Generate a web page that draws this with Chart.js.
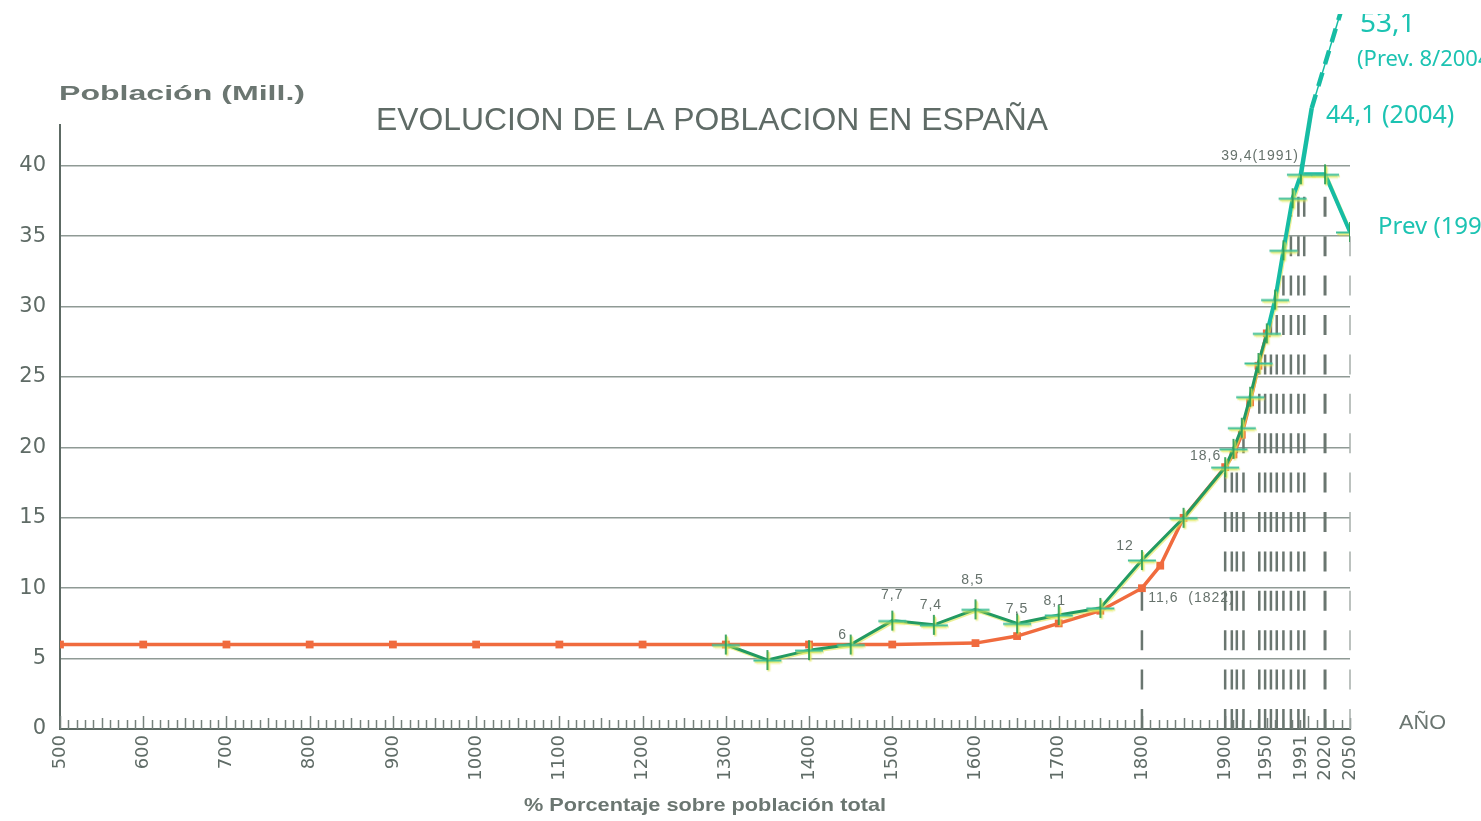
<!DOCTYPE html>
<html>
<head>
<meta charset="utf-8">
<script src="https://cdn.jsdelivr.net/npm/chart.js@4.4.1/dist/chart.umd.min.js"></script>
<style>
  html, body { margin: 0; padding: 0; background: #fff; overflow: hidden; }
  #wrap { width: 1481px; height: 821px; position: relative; }
</style>
</head>
<body>
<div id="wrap"><canvas id="c"></canvas></div>
<script>
// Población de España (millones de habitantes)
const orangeYears  = [500, 600, 700, 800, 900, 1000, 1100, 1200, 1300, 1400, 1500, 1600, 1650, 1700, 1750, 1800, 1822, 1850, 1900, 1910, 1920, 1930, 1940, 1950];
const orangeValues = [6.0, 6.0, 6.0, 6.0, 6.0, 6.0, 6.0, 6.0, 6.0, 6.0, 6.0, 6.1, 6.6, 7.5, 8.4, 10.0, 11.6, 15.0, 18.6, 19.5, 20.9, 23.2, 25.8, 28.1];

const greenYears  = [1300, 1350, 1400, 1450, 1500, 1550, 1600, 1650, 1700, 1750, 1800, 1850, 1900, 1910, 1920, 1930, 1940, 1950, 1960, 1970, 1981, 1991, 2020, 2050];
const greenValues = [6.0, 4.9, 5.6, 6.0, 7.7, 7.4, 8.5, 7.5, 8.1, 8.6, 12.0, 15.0, 18.6, 19.9, 21.4, 23.6, 26.0, 28.1, 30.5, 34.0, 37.7, 39.4, 39.4, 35.3];

// hand-drawn update: 1991 -> 2004 and the 2050 projection
const updateYears   = [1991, 2004];
const updateValues  = [39.4, 44.1];
const projYears     = [2004, 2050];
const projValues    = [44.1, 53.1];

const xTickYears  = [500, 600, 700, 800, 900, 1000, 1100, 1200, 1300, 1400, 1500, 1600, 1700, 1800, 1900, 1950, 1991, 2020, 2050];
const yTickValues = [0, 5, 10, 15, 20, 25, 30, 35, 40];

// vertical dashed reference lines (year, height reached)
const hatchYears = [1800, 1900, 1908, 1914, 1922, 1941, 1948, 1955, 1962, 1970, 1979, 1988, 1995];
const hatchTops  = [10.0, 18.3, 19.3, 20.2, 21.4, 26.0, 27.5, 29.0, 31.0, 33.5, 36.5, 37.9, 37.9];

// value labels on the green series (year) and the orange series
const greenLabelYears  = [1450, 1500, 1550, 1600, 1650, 1700, 1800, 1900, 1991];
const orangeLabelYears = [1822];

const TEXT = '#5f6b66';
const GRID = '#8f9a95';
const AXIS = '#5d6a64';
const ORANGE = '#f06b3e';
const GREEN = '#229a62';
const TEAL = '#16bca4';
const INK = '#1cc3b2';

function pairs(xs, ys) { return xs.map((x, i) => ({ x: x, y: ys[i] })); }
function fmt(v) { return String(v).replace('.', ','); }

function makeCross() {
  const c = document.createElement('canvas');
  c.width = 32; c.height = 24;
  const g = c.getContext('2d');
  g.strokeStyle = 'rgba(226,234,90,0.55)'; g.lineWidth = 1.5;
  g.beginPath(); g.moveTo(4, 14); g.lineTo(28, 14); g.moveTo(17.5, 4); g.lineTo(17.5, 22); g.stroke();
  g.strokeStyle = '#3fbf98'; g.lineWidth = 2;
  g.beginPath(); g.moveTo(2, 12.5); g.lineTo(30, 12.5); g.stroke();
  g.strokeStyle = '#2f9f55'; g.lineWidth = 1.8;
  g.beginPath(); g.moveTo(16, 2); g.lineTo(16, 22); g.stroke();
  return c;
}
const crossImg = makeCross();

// draws text stretched horizontally to a given width
function fitText(ctx, text, x, y, width, font, color, align) {
  ctx.save();
  ctx.font = font;
  ctx.fillStyle = color;
  ctx.textBaseline = 'middle';
  ctx.textAlign = 'left';
  const w = ctx.measureText(text).width;
  const sx = align === 'center' ? x - width / 2 : (align === 'right' ? x - width : x);
  ctx.translate(sx, y);
  ctx.scale(width / w, 1);
  ctx.fillText(text, 0, 0);
  ctx.restore();
}

function label(ctx, text, x, y, align) {
  ctx.save();
  ctx.font = '14px "Liberation Sans"';
  ctx.letterSpacing = '1px';
  ctx.fillStyle = '#66726c';
  ctx.textBaseline = 'middle';
  ctx.textAlign = align || 'center';
  ctx.fillText(text, x, y);
  ctx.restore();
}

// short ticks on the year axis and the dashed verticals
const backdrop = {
  id: 'backdrop',
  beforeDatasetsDraw(chart) {
    const ctx = chart.ctx, xs = chart.scales.x, ys = chart.scales.y;
    const y0 = ys.getPixelForValue(0);
    ctx.save();
    ctx.strokeStyle = '#76817c';
    ctx.lineWidth = 1.5;
    for (let yr = 500; yr <= 2050; yr += 10) {
      const px = Math.round(xs.getPixelForValue(yr)) + 0.5;
      const h = yr % 100 === 0 ? 13 : (yr % 50 === 0 ? 11 : 9);
      ctx.beginPath(); ctx.moveTo(px, y0); ctx.lineTo(px, y0 - h); ctx.stroke();
    }
    ctx.setLineDash([20, 19.4]);
    ctx.strokeStyle = '#6a7670';
    ctx.lineWidth = 2.5;
    hatchYears.forEach((yr, i) => {
      const px = xs.getPixelForValue(yr);
      ctx.beginPath(); ctx.moveTo(px, y0); ctx.lineTo(px, ys.getPixelForValue(hatchTops[i])); ctx.stroke();
    });
    ctx.lineWidth = 3;
    let px = xs.getPixelForValue(2020);
    ctx.beginPath(); ctx.moveTo(px, y0); ctx.lineTo(px, ys.getPixelForValue(39.4)); ctx.stroke();
    ctx.strokeStyle = '#a6afaa';
    ctx.lineWidth = 1.5;
    px = xs.getPixelForValue(2050);
    ctx.beginPath(); ctx.moveTo(px, y0); ctx.lineTo(px, ys.getPixelForValue(35.3)); ctx.stroke();
    ctx.restore();
  },
  beforeDatasetDraw(chart, args) {
    if (args.index === 1) {
      const ctx = chart.ctx;
      ctx.save();
      ctx.shadowColor = 'rgba(222,230,80,0.6)';
      ctx.shadowOffsetX = 1;
      ctx.shadowOffsetY = 1.5;
      ctx.shadowBlur = 0;
    }
  },
  afterDatasetDraw(chart, args) {
    if (args.index === 1) chart.ctx.restore();
  },
  afterDraw(chart) {
    const ctx = chart.ctx, xs = chart.scales.x, ys = chart.scales.y;
    // value labels
    const offs = {1450: [-8, -9, 'center'], 1500: [0, -25, 'center'], 1550: [-3, -20, 'center'], 1600: [-3, -29, 'center'],
                  1650: [0, -14, 'center'], 1700: [-4, -14, 'center'], 1800: [-17, -14, 'center'],
                  1900: [-4, -11, 'right'], 1991: [-2, -18, 'right']};
    greenLabelYears.forEach(yr => {
      const v = greenValues[greenYears.indexOf(yr)];
      const o = offs[yr];
      const t = yr === 1991 ? fmt(v) + '(1991)' : fmt(v);
      label(ctx, t, xs.getPixelForValue(yr) + o[0], ys.getPixelForValue(v) + o[1], o[2]);
    });
    orangeLabelYears.forEach(yr => {
      const v = orangeValues[orangeYears.indexOf(yr)];
      label(ctx, fmt(v) + '  (' + yr + ')', xs.getPixelForValue(yr) - 12, ys.getPixelForValue(v) + 32, 'left');
    });

    // titles
    fitText(ctx, 'EVOLUCION DE LA POBLACION EN ESPAÑA', 712, 121, 672, '31px "Liberation Sans"', TEXT, 'center');
    fitText(ctx, 'Población (Mill.)', 59, 94, 246, 'bold 20px "Liberation Sans"', '#6b7671', 'left');
    fitText(ctx, '% Porcentaje sobre población total', 524, 806, 362, 'bold 19px "Liberation Sans"', '#6b7671', 'left');
    fitText(ctx, 'AÑO', 1399, 723, 47, '20px "Liberation Sans"', '#6b7671', 'left');

    // handwritten notes
    ctx.save();
    ctx.beginPath(); ctx.rect(0, 14, chart.width, chart.height); ctx.clip();
    ctx.fillStyle = INK;
    ctx.textBaseline = 'alphabetic';
    ctx.font = '28px "Noto Sans"';
    ctx.fillText('53,1', 1360, 32);
    ctx.font = '22px "Noto Sans"';
    ctx.fillText('(Prev. 8/2004)', 1357, 66);
    ctx.font = '25px "Noto Sans"';
    ctx.fillText('44,1 (2004)', 1326, 123);
    ctx.font = '24px "Noto Sans"';
    ctx.fillText('Prev (1991)', 1378, 234);
    ctx.restore();
  }
};

const chart = new Chart(document.getElementById('c'), {
  type: 'line',
  data: {
    datasets: [
      {
        label: 'Población (serie 1)',
        data: pairs(orangeYears, orangeValues),
        borderColor: ORANGE,
        backgroundColor: ORANGE,
        borderWidth: 3.5,
        pointStyle: 'rect',
        pointRadius: 5.5,
        pointBorderWidth: 0,
        tension: 0,
        order: 3
      },
      {
        label: 'Población (serie 2)',
        data: pairs(greenYears, greenValues),
        borderColor: GREEN,
        borderWidth: 3,
        pointStyle: crossImg,
        pointRadius: 10,
        tension: 0,
        order: 2,
        segment: {
          borderColor: c => c.p0.parsed.x >= 1950 ? TEAL : GREEN,
          borderWidth: c => c.p0.parsed.x >= 1950 ? 4 : 3
        }
      },
      {
        label: 'Actualización 2004',
        data: pairs(updateYears, updateValues),
        borderColor: TEAL,
        backgroundColor: TEAL,
        borderWidth: 4.5,
        pointStyle: 'triangle',
        rotation: 197,
        pointRadius: c => c.dataIndex === 1 ? 8 : 0,
        tension: 0,
        order: 1,
        clip: { left: false, right: false, bottom: false, top: 111 }
      },
      {
        label: 'Previsión 2050',
        data: pairs(projYears, projValues),
        borderColor: TEAL,
        borderWidth: 4.5,
        borderDash: [14, 9],
        pointRadius: 0,
        tension: 0,
        order: 1,
        clip: { left: false, right: false, bottom: false, top: 111 }
      },
      {
        label: 'Previsión 2050 (trazo)',
        data: pairs(projYears, projValues),
        borderColor: TEAL,
        borderWidth: 1.5,
        pointRadius: 0,
        tension: 0,
        order: 1,
        clip: { left: false, right: false, bottom: false, top: 111 }
      }
    ]
  },
  options: {
    responsive: true,
    maintainAspectRatio: false,
    devicePixelRatio: 1,
    animation: false,
    events: [],
    layout: { padding: { top: 125, right: 131, left: 0, bottom: 0 } },
    plugins: { legend: { display: false }, tooltip: { enabled: false }, title: { display: false } },
    scales: {
      x: {
        type: 'linear',
        min: 500,
        max: 2050,
        afterBuildTicks: s => { s.ticks = xTickYears.map(v => ({ value: v })); },
        afterFit: s => { s.height = 92; },
        ticks: {
          autoSkip: false,
          minRotation: 90,
          maxRotation: 90,
          padding: 6,
          color: TEXT,
          font: { family: 'DejaVu Sans', size: 18 },
          callback: v => String(v)
        },
        grid: { drawOnChartArea: false, drawTicks: false },
        border: { display: true, color: AXIS, width: 2 }
      },
      y: {
        type: 'linear',
        min: 0,
        max: 42.9,
        afterBuildTicks: s => { s.ticks = yTickValues.map(v => ({ value: v })); },
        afterFit: s => { s.width = 60; },
        ticks: {
          padding: 14,
          color: TEXT,
          font: { family: 'DejaVu Sans', size: 21 },
          callback: v => String(v)
        },
        grid: { color: GRID, lineWidth: 1.5, drawTicks: false },
        border: { display: true, color: AXIS, width: 2 }
      }
    }
  },
  plugins: [backdrop]
});
</script>
</body>
</html>
